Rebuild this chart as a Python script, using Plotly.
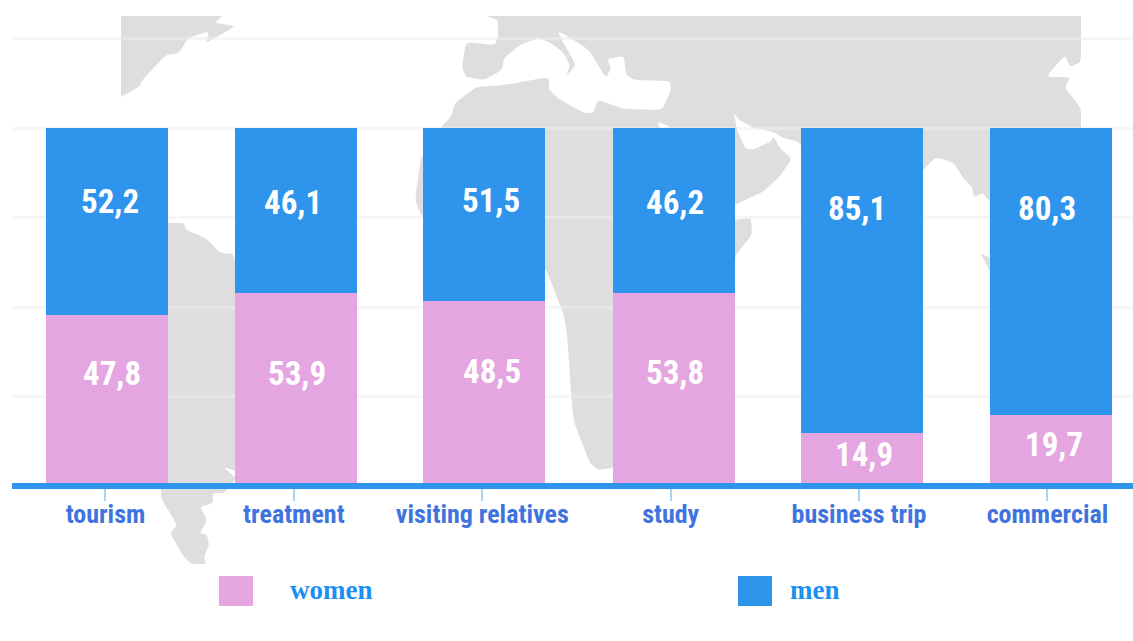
import plotly.graph_objects as go

W, H = 1133, 641

categories = ["tourism", "treatment", "visiting relatives", "study", "business trip", "commercial"]
women_labels = [47.8, 53.9, 48.5, 53.8, 14.9, 19.7]
men_labels = [52.2, 46.1, 51.5, 46.2, 85.1, 80.3]
# heights as drawn in the picture (third column's split is drawn about 51.6 / 48.4)
women_heights = [47.8, 53.9, 51.6, 53.8, 14.9, 19.7]
men_heights = [52.2, 46.1, 48.4, 46.2, 85.1, 80.3]
y_ticks = [0, 25, 50, 75, 100, 125]

# label nudges (px) relative to segment centre and tick
women_dx = [6.6, 3.2, 9.8, 4.4, 5, 6.6]
women_dy = [27, 16.5, 22.5, 17, 4.5, 6]
men_dx = [4.6, -0.8, 8.8, 4.4, -2, -0.4]
men_dy = [19.5, 8.5, 14.5, 8.5, 71.5, 63.5]
bar_nudge = [1.6, 2.2, 1.8, 3.4, 3.0, 3.6]

north_america = [(121,16),(222,16),(215,23),(235,26),(224,33),(206,43),(209,31),(188,38),(179,53),(166,55),(144,78),(139,87),(121,97)]
old_world = [(487,16),(1081,16),(1081,62),(1070,67),(1065,55),(1046,77),(1070,77),(1065,88),(1081,108),(1081,130),
             (1020,130),(995,200),(988,200),(983,193),(974,197),(972,187),(963,178),(954,163),(936,157),(923,170),(860,230),
             (800,142),(783,138),(774,132),(754,128),(739,120),(734,113),(737,130),(745,148),(752,150),(770,142),(774,137),
             (780,148),(792,159),(779,177),(763,192),(734,205),(700,225),(734,220),(751,218),(752,235),(734,257),(700,440),
             (612,468),(598,470),(590,463),(573,420),(566,320),(545,267),(530,250),(422,217),(415,200),(421,157),(440,128),
             (451,117),(455,103),(476,87),(505,85),(549,77),(549,90),(558,98),(566,103),(584,113),(593,113),(598,100),(624,109),
             (662,110),(671,90),(670,81),(635,80),(626,75),(624,56),(607,59),(611,68),(606,78),(589,50),(566,35),(558,32),
             (563,42),(576,65),(566,76),(570,65),(563,52),(549,42),(538,38),(520,45),(504,58),(502,70),(484,80),(466,77),
             (462,67),(466,42),(495,45),(498,37),(498,20)]
south_america = [(150,223),(184,223),(186,230),(206,238),(220,253),(234,254),(240,300),(240,472),(223,467),(236,478),(233,483),
                 (224,493),(213,493),(213,503),(200,507),(207,520),(200,533),(207,535),(209,545),(204,557),(206,564),(191,564),
                 (184,557),(170,533),(177,525),(161,498),(161,489),(150,480)]
sumatra = [(980,253),(995,260),(995,285),(988,267)]
oman_gap = [(658,122),(671,127),(660,129)]

def px(x): return x / W
def py(y): return 1 - y / H

def path(pts, keep_corners=()):
    # rounded outline: each vertex is a curve control point between nearby points on its edges
    n = len(pts)
    out = []
    for i, (x, y) in enumerate(pts):
        ax, ay = pts[i - 1]
        bx, by = pts[(i + 1) % n]
        s = (x + (ax - x) * 0.2, y + (ay - y) * 0.2)
        e = (x + (bx - x) * 0.2, y + (by - y) * 0.2)
        if (x, y) in keep_corners:
            s = e = (x, y)
        out.append(("M " if i == 0 else "L ") + f"{px(s[0]):.5f},{py(s[1]):.5f}")
        out.append(f"Q {px(x):.5f},{py(y):.5f} {px(e[0]):.5f},{py(e[1]):.5f}")
    return " ".join(out) + " Z"

def land(pts, color="#dedede", corners=()):
    return dict(type="path", path=path(pts, corners), xref="paper", yref="paper", fillcolor=color,
                line=dict(width=0), layer="below")

PINK, BLUE = "#e5a5e0", "#2f94ec"
fig = go.Figure()
bar_width = 122 / 188.4
bar_offset = [-bar_width / 2 + d / 188.4 for d in bar_nudge]
for name, vals, col in (("women", women_heights, PINK), ("men", men_heights, BLUE)):
    fig.add_trace(go.Bar(x=categories, y=vals, name=name, width=bar_width, offset=bar_offset,
                         marker=dict(color=col, line=dict(width=0)), showlegend=False))

FAMILY = "'Roboto Condensed', Roboto, sans-serif"
label_font = dict(family=FAMILY, size=33, color="white", weight="bold")
annotations = []
for i, c in enumerate(categories):
    annotations.append(dict(x=c, y=women_heights[i] / 2, text=f"{women_labels[i]}".replace(".", ","), showarrow=False,
                            font=label_font, xshift=women_dx[i], yshift=women_dy[i], xref="x", yref="y"))
    annotations.append(dict(x=c, y=women_heights[i] + men_heights[i] / 2, text=f"{men_labels[i]}".replace(".", ","),
                            showarrow=False, font=label_font, xshift=men_dx[i], yshift=men_dy[i], xref="x", yref="y"))

legend_font = dict(family="'Liberation Serif', serif", size=27, color="#1a90f0", weight="bold")
annotations.append(dict(x=px(331), y=py(590), xref="paper", yref="paper", text="women", showarrow=False, font=legend_font,
                        xanchor="center", yanchor="middle"))
annotations.append(dict(x=px(815), y=py(590), xref="paper", yref="paper", text="men", showarrow=False, font=legend_font,
                        xanchor="center", yanchor="middle"))

shapes = [land(north_america, corners=[(121,16),(222,16),(121,97)]),
          land(old_world, corners=[(1081,16),(487,16),(1081,130)]),
          land(south_america), land(sumatra), land(oman_gap, "#ffffff")]
shapes.append(dict(type="rect", xref="paper", yref="paper", x0=px(219), x1=px(253), y0=py(606), y1=py(576),
                   fillcolor=PINK, line=dict(width=0)))
shapes.append(dict(type="rect", xref="paper", yref="paper", x0=px(738), x1=px(772), y0=py(606), y1=py(576),
                   fillcolor=BLUE, line=dict(width=0)))
# baseline drawn over the feet of the bars
shapes.append(dict(type="line", xref="paper", yref="paper", x0=px(12), x1=1, y0=py(486), y1=py(486),
                   line=dict(color=BLUE, width=6), layer="above"))

fig.update_layout(
    width=W, height=H, margin=dict(l=0, r=0, t=0, b=0, pad=0, autoexpand=False),
    paper_bgcolor="white", plot_bgcolor="rgba(0,0,0,0)", barmode="stack",
    showlegend=False, shapes=shapes, annotations=annotations,
    xaxis=dict(domain=[px(12), 1], type="category", categoryorder="array", categoryarray=categories,
               range=[-0.496, 5.454], showline=False,
               ticks="outside", ticklen=14, tickwidth=2, tickcolor="#a8d5f5", showgrid=False, zeroline=False,
               tickangle=0, ticklabelstandoff=-9,
               tickfont=dict(family=FAMILY, size=26, color="#3f74de", weight="bold")),
    yaxis=dict(domain=[py(486), py(486 - 126 * 3.58)], range=[0, 126], tickvals=y_ticks, showticklabels=False, ticks="",
               showgrid=True, gridcolor="rgba(238,238,238,0.5)", gridwidth=3, zeroline=False, showline=False),
)
fig.write_html("out.html", config={"displayModeBar": False},
               post_script="document.body.style.margin='0';"
                           "document.querySelectorAll('.xtick text, .annotation-text').forEach(function(t){"
                           "if(t.style.fontFamily.indexOf('Roboto')>=0){t.style.fontStretch='75%';}});")
